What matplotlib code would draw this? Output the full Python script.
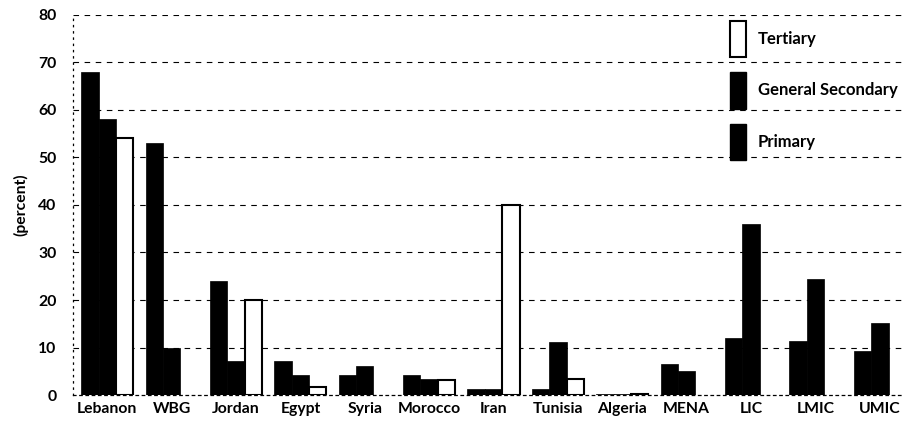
import numpy as np
import matplotlib
matplotlib.use("Agg")
import matplotlib.pyplot as plt
from matplotlib.patches import Patch

categories = ["Lebanon", "WBG", "Jordan", "Egypt", "Syria", "Morocco", "Iran",
              "Tunisia", "Algeria", "MENA", "LIC", "LMIC", "UMIC"]
primary = [68, 53, 24, 7.2, 4.2, 4.2, 1.2, 1.2, 0.3, 6.5, 12, 11.4, 9.3]
general_secondary = [58, 10, 7.2, 4.2, 6.2, 3.4, 1.2, 11.2, 0.3, 5.1, 36, 24.4, 15.1]
tertiary = [54, np.nan, 20, 1.7, np.nan, 3.2, 40, 3.3, 0.3, np.nan, np.nan, np.nan, np.nan]
yticks = [0, 10, 20, 30, 40, 50, 60, 70, 80]

plt.rcParams['font.family'] = ['Lato', 'DejaVu Sans']
plt.rcParams['font.weight'] = 'bold'

fig = plt.figure(figsize=(9.03, 4.23), dpi=100)
ax = fig.add_axes([0.081, 0.066, 0.919, 0.899])

x = np.arange(len(categories))
w = 0.27
ax.bar(x - w, primary, w, color='black', edgecolor='black', linewidth=0.5, label='Primary', zorder=3)
ax.bar(x, general_secondary, w, color='black', edgecolor='black', linewidth=0.5, label='General Secondary', zorder=3)
ax.bar(x + w, tertiary, w, color='white', edgecolor='black', linewidth=1.5, label='Tertiary', zorder=3)

ax.set_xlim(-0.53, 12.36)
ax.set_ylim(0, 80)
ax.set_yticks(yticks)
ax.set_yticklabels([str(t) for t in yticks], fontsize=11.3, fontweight='bold')
ax.set_xticks(x)
ax.set_xticklabels(categories, fontsize=11.3, fontweight='bold')
ax.tick_params(axis='both', length=0)
ax.tick_params(axis='x', pad=5)
ax.tick_params(axis='y', pad=12)

for t in yticks[1:]:
    ax.axhline(t, color='black', linewidth=0.8, linestyle=(0, (5, 5)), zorder=1)

for s in ['top', 'right']:
    ax.spines[s].set_visible(False)
ax.spines['left'].set_linestyle((0, (1, 4)))
ax.spines['left'].set_linewidth(0.9)
ax.spines['bottom'].set_linestyle((0, (2, 3)))
ax.spines['bottom'].set_linewidth(0.9)

ax.set_ylabel("(percent)", fontsize=11.3, fontweight='bold', labelpad=7)

handles = [Patch(facecolor='white', edgecolor='black', linewidth=1.5),
           Patch(facecolor='black', edgecolor='black'),
           Patch(facecolor='black', edgecolor='black')]
labels = ["Tertiary", "General Secondary", "Primary"]
leg = fig.legend(handles, labels, loc='upper left', bbox_to_anchor=(0.8007, 0.967),
                 bbox_transform=fig.transFigure, borderaxespad=0,
                 frameon=False, handlelength=1.0, handleheight=3.0,
                 labelspacing=0.9, handletextpad=0.7,
                 prop={'family': 'Lato', 'weight': 'bold', 'size': 12})
leg.set_zorder(5)

fig.savefig("out.png", dpi=100)
